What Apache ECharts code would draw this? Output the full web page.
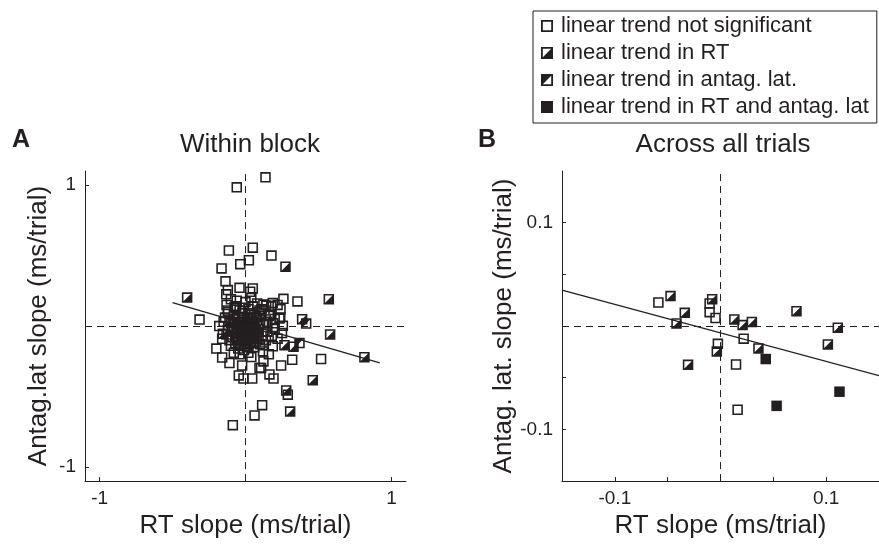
<!DOCTYPE html>
<html>
<head>
<meta charset="utf-8">
<script src="https://cdn.jsdelivr.net/npm/echarts@6/dist/echarts.min.js"></script>
<style>
html,body{margin:0;padding:0;background:#fff;}
#chart{width:879px;height:544px;}
</style>
</head>
<body>
<div id="chart"></div>
<script>
// ---------- data ----------
const legendNames = ['linear trend not significant', 'linear trend in RT', 'linear trend in antag. lat.', 'linear trend in RT and antag. lat'];

// Panel A (Within block)
const aOpen = [
  [0.137,1.055],[-0.06,0.984],[-0.114,0.536],[0.05,0.556],[0.178,0.50],[0.023,0.467],[-0.036,0.439],[-0.164,0.409],
  [-0.137,0.317],[0.356,0.175],[0.26,0.193],[-0.121,0.255],[-0.041,0.271],[0.05,0.267],[-0.132,0.225],[0.032,0.243],
  [0.187,0.163],[0.123,0.152],[-0.064,0.14],[-0.315,0.046],[0.256,0.002],[0.238,0.06],[0.16,0.071],[0.187,-0.143],
  [0.119,-0.136],[0.518,-0.234],[0.32,-0.239],[0.123,-0.251],[0.244,-0.28],[0.096,-0.297],[-0.16,-0.223],[-0.11,-0.262],
  [-0.023,-0.28],[0.164,-0.343],[0.192,-0.372],[-0.046,-0.35],[-0.014,-0.372],[0.046,-0.372],[0.29,-0.487],[0.114,-0.561],
  [0.062,-0.634],[-0.087,-0.703],[-0.121,0.11],[-0.075,0.133],[0.096,0.11],[0.142,0.145],[0.164,0.076],[0.176,0.14],
  [0.107,-0.297],[0.233,0.053],
  [-0.08,0.05],[-0.05,0.06],[-0.02,0.04],[0.02,0.05],[0.05,0.03],[0.08,0.04],[-0.1,0.02],[-0.06,0.01],[-0.03,0.0],
  [0.0,0.01],[0.03,-0.01],[0.06,0.0],[0.09,-0.02],[0.12,0.01],[-0.12,-0.03],[-0.08,-0.04],[-0.04,-0.03],[-0.01,-0.05],
  [0.02,-0.04],[0.05,-0.06],[0.08,-0.05],[0.11,-0.07],[-0.09,-0.08],[-0.05,-0.09],[-0.02,-0.07],[0.01,-0.1],[0.04,-0.09],
  [0.07,-0.11],[-0.07,-0.12],[-0.03,-0.13],[0.0,-0.14],[0.03,-0.12],[0.06,-0.15],[-0.05,-0.16],[-0.01,-0.17],[0.02,-0.19],
  [-0.04,-0.2],[0.04,-0.22],[-0.1,-0.14],[0.1,-0.13],[0.14,-0.1],[0.15,-0.04],[0.18,-0.07],[0.2,-0.02],[0.22,-0.09],
  [-0.14,0.06],[-0.16,-0.09],[-0.12,0.1],[-0.02,0.09],[0.02,0.12],[0.06,0.08],[0.1,0.07],[-0.06,0.18],[0.0,0.17],
  [0.04,0.2],[-0.1,0.19],[0.08,0.16],[-0.03,-0.02],[0.0,-0.03],[-0.06,-0.05],[0.01,0.02],[0.04,0.02],[-0.01,-0.09],
  [0.12,-0.18],[0.16,-0.2],[-0.08,-0.19],[0.19,0.02],[-0.18,0.0],[-0.2,-0.16],[0.03,0.09],[-0.04,0.11],[0.13,0.11],
  [0.24,0.12],[0.25,-0.05],[-0.13,-0.06],
  [-0.07,0.03],[-0.04,0.02],[-0.01,0.0],[0.02,0.0],[0.05,-0.02],[-0.09,-0.01],[-0.05,-0.02],[-0.02,-0.04],[0.01,-0.06],
  [0.04,-0.04],[0.07,-0.03],[-0.07,-0.07],[-0.03,-0.06],[0.0,-0.08],[0.03,-0.07],[0.06,-0.08],[-0.06,-0.1],[-0.02,-0.11],
  [0.02,-0.13],[0.05,-0.12],[-0.04,-0.14],[0.01,-0.15],[-0.08,0.08],[-0.01,0.06],[0.03,0.06],[0.07,0.06],[-0.11,0.04],
  [0.1,0.02],[0.13,-0.04],[-0.11,-0.1],[0.09,-0.09],[-0.02,0.13],[0.05,0.14],[-0.07,0.13],[0.11,0.12],[0.17,0.08],
  [0.2,0.05],[0.15,0.03],[-0.15,0.03],[0.22,0.15],[-0.13,0.15]
];
const aRT = [
  [0.274,0.421],[-0.40,0.202],[0.571,0.191],[0.388,0.048],[0.58,-0.06],[-0.155,-0.055],[0.267,-0.136],[0.329,-0.147],
  [0.461,-0.384],[0.279,-0.457],[0.306,-0.607],[0.815,-0.221]
];
const aAntag = [[0.416,0.018],[0.37,-0.12]];
const aBoth = [];
const aFit = [[-0.5,0.166],[0.92,-0.262]];
const aTicks = [-1, 1];
const aLabels = [-1, 1];

// Panel B (Across all trials)
const bOpen = [
  [-0.0588,0.0228],[-0.0103,0.0219],[-0.0103,0.0134],[-0.0047,0.0078],[-0.0025,-0.0172],[0.0219,-0.0122],
  [0.0147,-0.0372],[0.0162,-0.081]
];
const bRT = [
  [-0.0473,0.029],[-0.0338,0.0128],[-0.0416,0.0025],[-0.0079,0.026],[0.0131,0.0063],[0.0209,0.0009],[0.0297,0.004],
  [0.0719,0.0144],[0.111,-0.0016],[-0.0035,-0.0247],[0.0359,-0.0216],[0.1016,-0.0178],[-0.0307,-0.0375]
];
const bAntag = [];
const bBoth = [[0.0428,-0.0319],[0.1126,-0.0635],[0.0531,-0.0772]];
const bFit = [[-0.15,0.0347],[0.15,-0.048]];
const bTicks = [-0.1, -0.05, 0, 0.05, 0.1];
const bLabels = [-0.1, 0.1];

// ---------- styling ----------
const INK = '#231f20';
const FONT = 'Liberation Sans, Arial, Helvetica, sans-serif';
const RING = 'M0,0 L10,0 L10,10 L0,10 Z M1.5,1.5 L1.5,8.5 L8.5,8.5 L8.5,1.5 Z';
const SYM_OPEN = 'path://' + RING;
const SYM_RT = 'path://' + RING + ' M8.5,1.5 L8.5,8.5 L1.5,8.5 Z';
const SYM_ANTAG = 'path://' + RING + ' M1.5,1.5 L8.5,1.5 L1.5,8.5 Z';
const SYM_BOTH = 'path://M0,0 L10,0 L10,10 L0,10 Z';
const symbols = [SYM_OPEN, SYM_RT, SYM_ANTAG, SYM_BOTH];

function makeX(idx, min, max, ticks, labels) {
  return {
    type: 'value', gridIndex: idx, min: min, max: max,
    splitLine: {show: false},
    axisLine: {show: true, onZero: false, lineStyle: {color: INK, width: 1}},
    axisTick: {show: true, inside: true, length: 4, lineStyle: {color: INK}, customValues: ticks},
    axisLabel: {customValues: labels, color: INK, fontSize: 19, fontFamily: FONT, margin: 8},
    name: 'RT slope (ms/trial)', nameLocation: 'middle', nameGap: 27,
    nameTextStyle: {color: INK, fontSize: 26, fontFamily: FONT}
  };
}
function makeY(idx, min, max, ticks, labels, name, gap) {
  return {
    type: 'value', gridIndex: idx, min: min, max: max,
    splitLine: {show: false},
    axisLine: {show: true, onZero: false, lineStyle: {color: INK, width: 1}},
    axisTick: {show: true, inside: true, length: 4, lineStyle: {color: INK}, customValues: ticks},
    axisLabel: {customValues: labels, color: INK, fontSize: 19, fontFamily: FONT, margin: 9},
    name: name, nameLocation: 'middle', nameGap: gap,
    nameTextStyle: {color: INK, fontSize: 26, fontFamily: FONT}
  };
}
function scatter(name, data, idx, symIdx) {
  return {
    type: 'scatter', name: name, data: data, xAxisIndex: idx, yAxisIndex: idx,
    symbol: symbols[symIdx], symbolSize: 10.5,
    itemStyle: {color: INK, opacity: 1}, silent: true
  };
}
const zeroLines = {
  silent: true, symbol: ['none', 'none'], animation: false,
  label: {show: false},
  lineStyle: {type: [7, 5], color: INK, width: 1},
  data: [{xAxis: 0}, {yAxis: 0}]
};

const series = [];
const setsA = [aOpen, aRT, aAntag, aBoth];
const setsB = [bOpen, bRT, bAntag, bBoth];
[0, 1].forEach(function (p) {
  series.push({
    type: 'line', name: 'fit' + p, data: p === 0 ? aFit : bFit, xAxisIndex: p, yAxisIndex: p,
    symbol: 'none', lineStyle: {color: INK, width: 1.3}, silent: true, z: 1,
    markLine: zeroLines
  });
  const sets = p === 0 ? setsA : setsB;
  for (let i = 0; i < 4; i++) series.push(scatter(legendNames[i], sets[i], p, i));
});

const chart = echarts.init(document.getElementById('chart'), null, {renderer: 'canvas'});
chart.setOption({
  animation: false,
  backgroundColor: '#fff',
  grid: [
    {left: 85, top: 171, width: 321, height: 320},
    {left: 562, top: 171, width: 320, height: 320}
  ],
  xAxis: [makeX(0, -1.1, 1.1, aTicks, aLabels), makeX(1, -0.15, 0.15, bTicks, bLabels)],
  yAxis: [
    makeY(0, -1.1, 1.1, aTicks, aLabels, 'Antag.lat slope (ms/trial)', 33),
    makeY(1, -0.15, 0.15, bTicks, bLabels, 'Antag. lat. slope (ms/trial)', 38)
  ],
  legend: {
    orient: 'vertical', left: 533, top: 11,
    data: legendNames.map(function (n, i) { return {name: n, icon: symbols[i]}; }),
    itemWidth: 12, itemHeight: 12, itemGap: 5,
    borderColor: INK, borderWidth: 1, borderRadius: 0,
    padding: [4, 8, 5, 8],
    selectedMode: false,
    itemStyle: {color: INK},
    textStyle: {color: INK, fontSize: 22, fontFamily: FONT, lineHeight: 22, padding: [0, 0, 0, 3]}
  },
  graphic: [
    {type: 'text', left: 12, top: 128, style: {text: 'A', font: 'bold 25px ' + FONT, fill: INK}},
    {type: 'text', left: 478, top: 128, style: {text: 'B', font: 'bold 25px ' + FONT, fill: INK}},
    {type: 'text', x: 250, y: 145, style: {text: 'Within block', font: '26px ' + FONT, fill: INK, align: 'center', verticalAlign: 'middle'}},
    {type: 'text', x: 723, y: 145, style: {text: 'Across all trials', font: '26px ' + FONT, fill: INK, align: 'center', verticalAlign: 'middle'}}
  ],
  series: series
});
</script>
</body>
</html>
